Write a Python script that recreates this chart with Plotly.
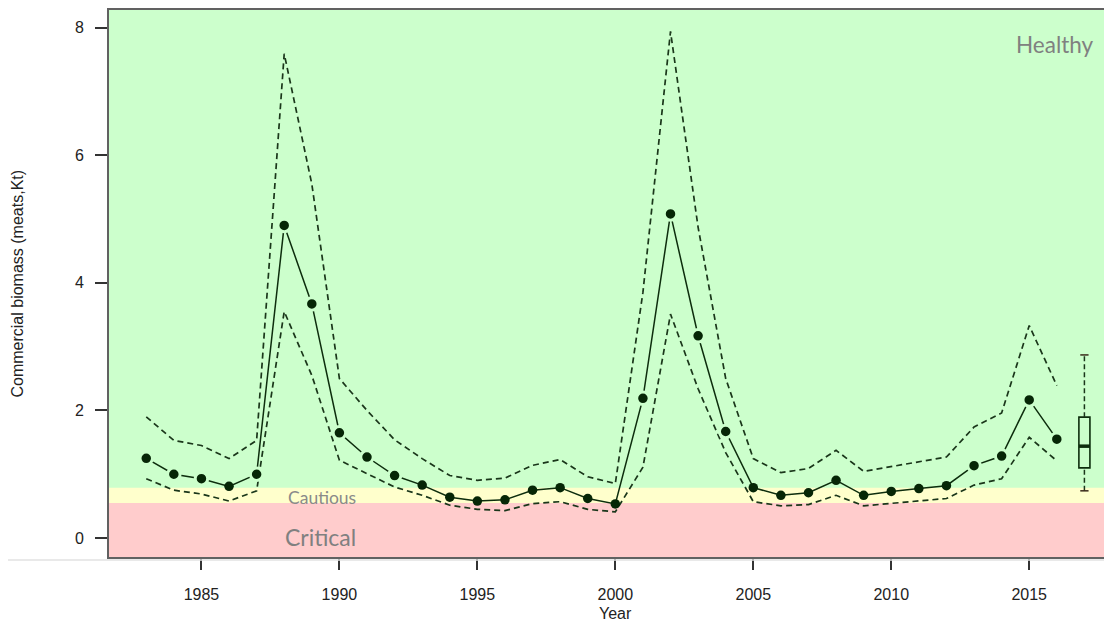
import plotly.graph_objects as go

# ---- data ----
years = list(range(1983, 2017))
biomass = [1.25, 1.00, 0.93, 0.81, 1.00, 4.90, 3.67, 1.65, 1.27, 0.98, 0.83, 0.64, 0.58, 0.60, 0.75, 0.79, 0.62,
           0.535, 2.19, 5.08, 3.17, 1.67, 0.79, 0.67, 0.71, 0.905, 0.67, 0.73, 0.775, 0.82, 1.135, 1.285, 2.165, 1.55]
upper = [1.90, 1.53, 1.45, 1.245, 1.53, 7.59, 5.55, 2.50, 2.00, 1.54, 1.245, 0.98, 0.905, 0.94, 1.14, 1.23, 0.96,
         0.855, 3.85, 7.94, 4.87, 2.50, 1.245, 1.025, 1.09, 1.375, 1.045, 1.12, 1.19, 1.27, 1.74, 1.96, 3.33, 2.39]
lower = [0.93, 0.75, 0.69, 0.58, 0.74, 3.55, 2.55, 1.22, 1.01, 0.80, 0.67, 0.515, 0.45, 0.43, 0.54, 0.57, 0.45,
         0.41, 1.11, 3.51, 2.34, 1.34, 0.57, 0.505, 0.525, 0.67, 0.505, 0.54, 0.58, 0.62, 0.83, 0.93, 1.58, 1.21]

proj_year = 2017
proj_q1, proj_median, proj_q3 = 1.10, 1.44, 1.895
proj_low, proj_high = 0.74, 2.87

lrp = 0.55   # critical / cautious boundary
usr = 0.79   # cautious / healthy boundary

zone_labels = ["Healthy", "Cautious", "Critical"]
x_ticks = [1985, 1990, 1995, 2000, 2005, 2010, 2015]
y_ticks = [0, 2, 4, 6, 8]

x_range = [1981.65, 2018.0]
y_range = [-0.297, 8.276]

GREEN = "#CCFFCC"
YELLOW = "#FFFFCC"
RED = "#FFCCCC"
LINE_DARK = "#1a361a"
PT_DARK = "#062606"
AXFONT = "Liberation Sans, Arial"

fig = go.Figure()

# CI dashed lines
for ci in (upper, lower):
    fig.add_trace(go.Scatter(x=years, y=ci, mode="lines",
                             line=dict(color=LINE_DARK, width=1.7, dash="6px,4px"),
                             hoverinfo="skip", showlegend=False))

# central series (R type="b": gaps around points emulated with a background-coloured ring,
# only where the ring sits wholly inside one zone)
clear = [(abs(v - usr) > 0.12 and abs(v - lrp) > 0.12) for v in biomass]
ring_col = [GREEN if v >= usr else (YELLOW if v >= lrp else RED) for v in biomass]
ring_w = [3 if c else 0 for c in clear]
pt_size = [12.5 if c else 9.5 for c in clear]
fig.add_trace(go.Scatter(x=years, y=biomass, mode="lines+markers",
                         line=dict(color="#0d2d0d", width=1.5),
                         marker=dict(size=pt_size, color=PT_DARK, opacity=1,
                                     line=dict(color=ring_col, width=ring_w)),
                         showlegend=False))

# projection box
fig.add_trace(go.Box(x=[proj_year], q1=[proj_q1], median=[proj_median], q3=[proj_q3],
                     lowerfence=[proj_q1], upperfence=[proj_q3], width=0.4, whiskerwidth=0,
                     fillcolor="rgba(0,0,0,0)", line=dict(color="#0d2d0d", width=1.6),
                     showlegend=False, hoverinfo="skip"))
# dashed whiskers
fig.add_trace(go.Scatter(x=[proj_year, proj_year], y=[proj_q3, proj_high], mode="lines",
                         line=dict(color=LINE_DARK, width=1.5, dash="5px,3px"), showlegend=False))
fig.add_trace(go.Scatter(x=[proj_year, proj_year], y=[proj_low, proj_q1], mode="lines",
                         line=dict(color=LINE_DARK, width=1.5, dash="5px,3px"), showlegend=False))
# whisker caps
for v in (proj_low, proj_high):
    fig.add_trace(go.Scatter(x=[proj_year - 0.15, proj_year + 0.15], y=[v, v], mode="lines",
                             line=dict(color="#3a2a1a", width=1.5), showlegend=False))
# thick median
fig.add_trace(go.Scatter(x=[proj_year - 0.2, proj_year + 0.2], y=[proj_median, proj_median], mode="lines",
                         line=dict(color="#0d2d0d", width=3.5), showlegend=False))

# zone bands
fig.add_shape(type="rect", xref="paper", x0=0, x1=1, yref="y", y0=lrp, y1=usr,
              fillcolor=YELLOW, line_width=0, layer="below")
fig.add_shape(type="rect", xref="paper", x0=0, x1=1, yref="y", y0=y_range[0], y1=lrp,
              fillcolor=RED, line_width=0, layer="below")
# faint separator line under the plot
fig.add_shape(type="line", xref="paper", x0=-0.15, x1=1, yref="paper", y0=-0.0055, y1=-0.0055,
              line=dict(color="#e2e2e2", width=1.5))

# zone labels
fig.add_annotation(x=2015.95, y=7.73, text=zone_labels[0], showarrow=False,
                   font=dict(family="Lato", size=22.5, color="#808080"))
fig.add_annotation(x=1989.38, y=0.64, text=zone_labels[1], showarrow=False,
                   font=dict(family="Lato", size=17.5, color="#8a8a8a"))
fig.add_annotation(x=1989.3, y=0.02, text=zone_labels[2], showarrow=False,
                   font=dict(family="Lato", size=23, color="#808080"))

# axis titles
fig.add_annotation(xref="paper", yref="paper", x=-0.0917, y=0.5, text="Commercial biomass (meats,Kt)",
                   textangle=-90, showarrow=False, xanchor="center", yanchor="middle",
                   font=dict(family=AXFONT, size=16, color="#222"))
fig.add_annotation(xref="x", yref="paper", x=2000, y=-0.104, text="Year", showarrow=False,
                   xanchor="center", yanchor="middle",
                   font=dict(family=AXFONT, size=16, color="#222"))

frame = "rgba(0,0,0,0.62)"
fig.update_xaxes(range=x_range, tickvals=x_ticks,
                 showgrid=False, zeroline=False, showline=True, mirror=True, linecolor=frame, linewidth=2,
                 ticks="outside", ticklen=11, tickwidth=1.5, tickcolor="#333", ticklabelstandoff=11,
                 tickfont=dict(family=AXFONT, size=16, color="#222"))
fig.update_yaxes(range=y_range, tickvals=y_ticks,
                 showgrid=False, zeroline=False, showline=True, mirror=False, linecolor=frame, linewidth=2,
                 ticks="outside", ticklen=12, tickwidth=1.5, tickcolor="#333", ticklabelstandoff=8,
                 tickfont=dict(family=AXFONT, size=16, color="#222"))

# the page body adds an 8px offset; compensate so the plot lands where the reference has it
fig.update_layout(width=1104, height=616, margin=dict(l=101, r=0, t=0, b=67),
                  plot_bgcolor=GREEN, paper_bgcolor="white", showlegend=False)

fig.write_html("out.html")
